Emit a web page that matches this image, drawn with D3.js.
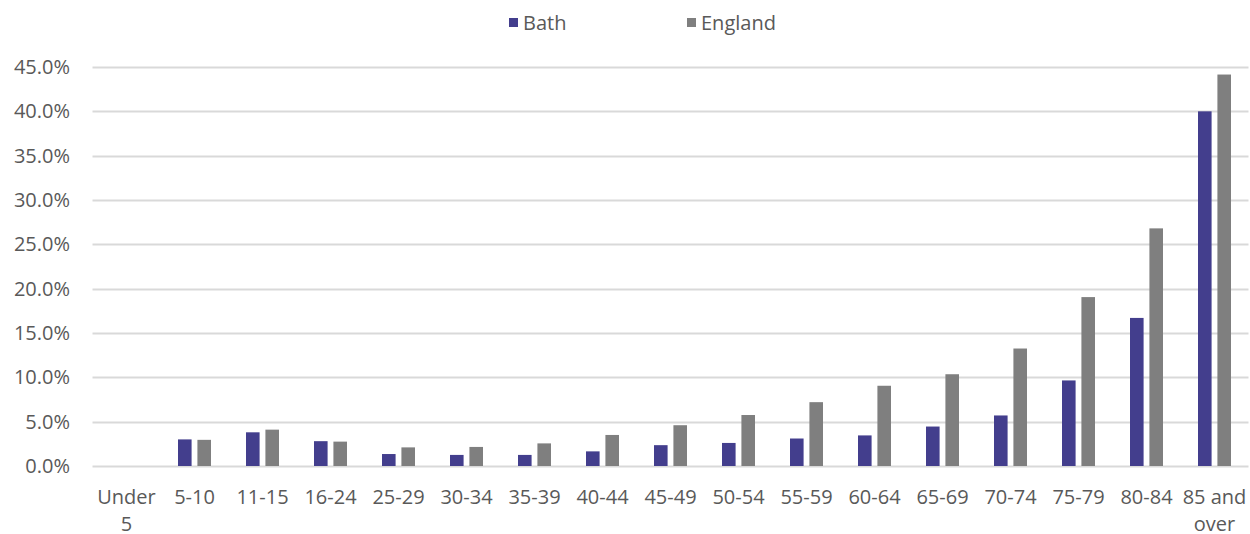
<!DOCTYPE html>
<html>
<head>
<meta charset="utf-8">
<script src="https://cdn.jsdelivr.net/npm/d3@7"></script>
<style>
  html, body { margin: 0; padding: 0; background: #fff; }
  svg { display: block; font-family: "Open Sans", sans-serif; }
</style>
</head>
<body>
<svg id="chart" width="1250" height="534"></svg>
<script>
// Age bands (multi-line labels split on "|")
const categories = ["Under|5", "5-10", "11-15", "16-24", "25-29", "30-34", "35-39", "40-44",
  "45-49", "50-54", "55-59", "60-64", "65-69", "70-74", "75-79", "80-84", "85 and|over"];
// Percentages by age band
const bathValues = [0, 3.0, 3.8, 2.8, 1.35, 1.25, 1.25, 1.65, 2.35, 2.6, 3.1, 3.45, 4.45, 5.7, 9.65, 16.7, 40.0];
const englandValues = [0, 2.95, 4.1, 2.75, 2.1, 2.15, 2.55, 3.5, 4.6, 5.75, 7.2, 9.05, 10.35, 13.25, 19.05, 26.8, 44.15];
const seriesNames = ["Bath", "England"];
const yTicks = [0, 5, 10, 15, 20, 25, 30, 35, 40, 45];

const colors = { Bath: "#433E8D", England: "#7F7F7F" };
const textColor = "#595959";
const gridColor = "#D9D9D9";
const fontSize = "20px";

const svg = d3.select("#chart");
const margin = { left: 92.5, right: 1.5, top: 67, bottom: 68 };
const W = 1250, H = 534;

const x = d3.scaleBand()
  .domain(categories)
  .range([margin.left, W - margin.right])
  .paddingInner(0).paddingOuter(0);

const y = d3.scaleLinear()
  .domain([0, 45])
  .range([H - margin.bottom, margin.top]);

// Gridlines
svg.append("g")
  .selectAll("line")
  .data(yTicks)
  .join("line")
  .attr("x1", margin.left)
  .attr("x2", W - margin.right)
  .attr("y1", d => Math.round(y(d)) + 0.5)
  .attr("y2", d => Math.round(y(d)) + 0.5)
  .attr("stroke", gridColor)
  .attr("stroke-width", 2);

// Y axis labels
const yAxis = d3.axisLeft(y)
  .tickValues(yTicks)
  .tickSize(0)
  .tickPadding(0)
  .tickFormat(d => d.toFixed(1) + "%");
svg.append("g")
  .attr("transform", "translate(70,0)")
  .call(yAxis)
  .call(g => g.select(".domain").remove())
  .call(g => g.selectAll("text")
    .attr("fill", textColor)
    .style("font-size", fontSize)
    .style("font-family", "'Open Sans', sans-serif"));

// Bars
const sub = d3.scaleBand()
  .domain(seriesNames)
  .range([-16.5, 16.5])
  .paddingInner(0.3)
  .paddingOuter(0);

const rows = categories.map((c, i) => ({ cat: c, Bath: bathValues[i], England: englandValues[i] }));

const groups = svg.append("g")
  .selectAll("g")
  .data(rows)
  .join("g")
  .attr("transform", d => `translate(${x(d.cat) + x.bandwidth() / 2},0)`);

groups.selectAll("rect")
  .data(d => seriesNames.map(s => ({ s, v: d[s] })))
  .join("rect")
  .attr("x", d => sub(d.s))
  .attr("width", sub.bandwidth())
  .attr("y", d => y(d.v))
  .attr("height", d => y(0) - y(d.v))
  .attr("fill", d => colors[d.s]);

// X axis labels
const xl = svg.append("g")
  .selectAll("text")
  .data(categories)
  .join("text")
  .attr("x", d => x(d) + x.bandwidth() / 2)
  .attr("y", 504)
  .attr("text-anchor", "middle")
  .attr("fill", textColor)
  .style("font-size", fontSize);
xl.selectAll("tspan")
  .data(d => d.split("|"))
  .join("tspan")
  .attr("x", function () { return d3.select(this.parentNode).attr("x"); })
  .attr("dy", (d, i) => i === 0 ? 0 : 27)
  .text(d => d);

// Legend
const legendItems = [
  { name: "Bath", x: 509 },
  { name: "England", x: 687 }
];
const lg = svg.append("g")
  .selectAll("g")
  .data(legendItems)
  .join("g")
  .attr("transform", d => `translate(${d.x},0)`);
lg.append("rect")
  .attr("x", 0).attr("y", 18)
  .attr("width", 9).attr("height", 9)
  .attr("fill", d => colors[d.name]);
lg.append("text")
  .attr("x", 14).attr("y", 30)
  .attr("fill", textColor)
  .style("font-size", fontSize)
  .text(d => d.name);
</script>
</body>
</html>
